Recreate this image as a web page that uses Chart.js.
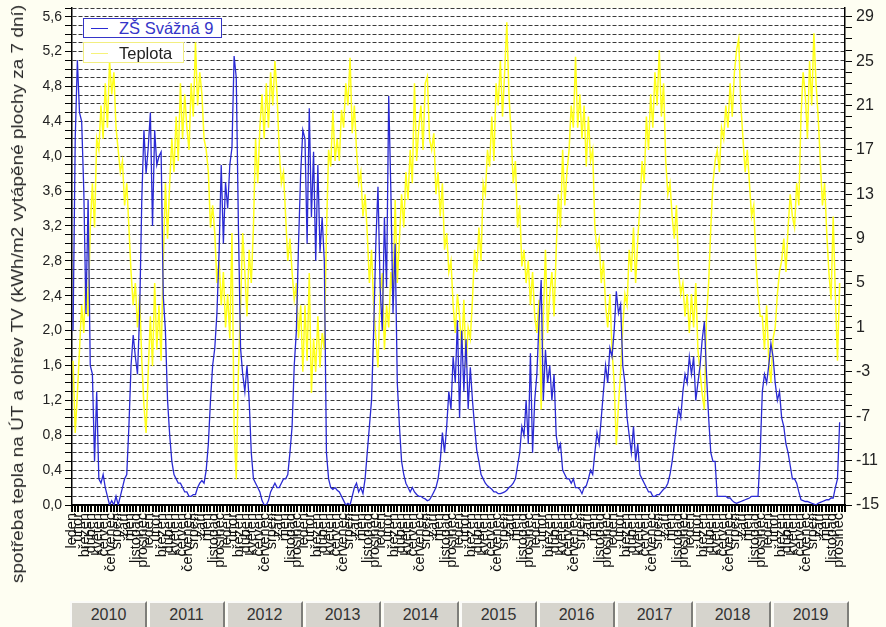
<!DOCTYPE html>
<html lang="cs">
<head>
<meta charset="utf-8">
<title>Spotřeba tepla – ZŠ Svážná 9</title>
<script src="https://cdn.jsdelivr.net/npm/chart.js@4.4.1/dist/chart.umd.min.js"></script>
<style>
  html, body { margin: 0; padding: 0; background: #fefef2; }
  body { width: 886px; height: 627px; overflow: hidden; position: relative; font-family: 'Liberation Sans', Arial, sans-serif; }
  #graf { position: absolute; left: 0; top: 0; }
  #ytitulek { position: absolute; left: 18px; top: 294px; white-space: nowrap; font-size: 17px; color: #2a2a2a; }
  .leg { position: absolute; left: 83px; background: #fff; box-sizing: border-box; font-size: 16.5px; line-height: 18px; white-space: nowrap; }
  .leg span.cara { position: absolute; left: 7px; width: 17px; top: 50%; height: 0; }
  .leg span.txt { position: absolute; left: 35px; top: 50%; transform: translateY(-52%); }
  #leg1 { top: 18px; width: 139px; height: 20px; border: 1px solid #3535c8; color: #3535c8; }
  #leg1 .cara { border-top: 1px solid #2b2bd4; }
  #leg2 { top: 42px; width: 101px; height: 21px; border: 1px solid #f2ee80; color: #222; }
  #leg2 .cara { border-top: 1px solid #f6f27a; }
  .rok { position: absolute; top: 601px; width: 77px; height: 30px; box-sizing: border-box; background: #d6d4cd;
         border-top: 2px solid #fbfbf8; border-left: 2px solid #fbfbf8; border-right: 2px solid #7e7e7a;
         text-align: center; line-height: 23px; font-size: 16px; color: #333; }
</style>
</head>
<body>
<canvas id="graf" width="886" height="600"></canvas>
<div id="ytitulek">spotřeba tepla na ÚT a ohřev TV (kWh/m2 vytápěné plochy za 7 dní)</div>
<div class="leg" id="leg1"><span class="cara"></span><span class="txt">ZŠ Svážná 9</span></div>
<div class="leg" id="leg2"><span class="cara"></span><span class="txt">Teplota</span></div>
<div id="roky"></div>
<script>
// měsíce a roky na ose x
const mesice = ['leden', 'únor', 'březen', 'duben', 'květen', 'červen', 'červenec', 'srpen', 'září', 'říjen', 'listopad', 'prosinec'];
const roky = [2010, 2011, 2012, 2013, 2014, 2015, 2016, 2017, 2018, 2019];

// spotřeba tepla (kWh/m2 za 7 dní), tři hodnoty na měsíc
const spotreba2010 = [2.0, 4.2, 5.1, 4.5, 4.4, 3.6, 2.2, 3.5, 1.6, 1.5, 0.5, 1.3, 0.3, 0.25, 0.35, 0.2, 0.1, 0.0, 0.05, 0.0, 0.1, 0.0, 0.1, 0.2, 0.3, 0.35, 0.9, 1.6, 1.95, 1.7, 1.5, 2.2, 3.5, 4.3, 3.8, 4.1];
const spotreba2011 = [4.5, 3.2, 4.3, 3.9, 4.0, 4.05, 2.4, 2.0, 1.2, 0.8, 0.5, 0.35, 0.3, 0.25, 0.25, 0.2, 0.15, 0.15, 0.1, 0.1, 0.12, 0.12, 0.2, 0.25, 0.28, 0.25, 0.4, 0.7, 1.2, 1.6, 1.8, 2.2, 2.9, 3.9, 3.0, 3.7];
const spotreba2012 = [3.4, 3.9, 4.1, 5.15, 4.9, 3.2, 1.8, 1.5, 1.3, 1.6, 1.2, 0.6, 0.3, 0.25, 0.2, 0.15, 0.05, 0.0, 0.0, 0.05, 0.15, 0.2, 0.25, 0.2, 0.2, 0.25, 0.3, 0.3, 0.35, 0.6, 0.9, 1.6, 2.0, 3.0, 3.8, 4.3];
const spotreba2013 = [4.2, 3.0, 4.55, 3.3, 4.05, 2.8, 3.9, 2.9, 3.3, 2.8, 0.6, 0.3, 0.2, 0.18, 0.2, 0.17, 0.15, 0.1, 0.05, 0.0, 0.02, 0.0, 0.1, 0.2, 0.25, 0.15, 0.2, 0.13, 0.3, 0.6, 0.9, 1.2, 2.0, 3.0, 3.65, 2.5];
const spotreba2014 = [2.0, 3.3, 2.5, 4.69, 3.6, 2.2, 3.0, 1.4, 0.9, 0.5, 0.35, 0.25, 0.2, 0.15, 0.2, 0.15, 0.12, 0.1, 0.1, 0.08, 0.07, 0.05, 0.06, 0.1, 0.15, 0.2, 0.3, 0.5, 0.83, 0.6, 0.9, 1.3, 1.1, 1.7, 1.4, 2.12];
const spotreba2015 = [1.0, 2.0, 1.3, 1.9, 1.1, 1.58, 1.2, 0.9, 0.63, 0.5, 0.35, 0.3, 0.25, 0.22, 0.2, 0.18, 0.15, 0.15, 0.13, 0.13, 0.14, 0.15, 0.17, 0.2, 0.22, 0.25, 0.3, 0.45, 0.6, 0.9, 0.8, 1.2, 0.7, 1.74, 0.6, 1.2];
const spotreba2016 = [1.5, 2.1, 2.58, 1.2, 1.78, 1.4, 1.6, 1.2, 1.5, 0.8, 0.63, 0.7, 0.4, 0.35, 0.3, 0.3, 0.25, 0.3, 0.2, 0.2, 0.18, 0.13, 0.2, 0.22, 0.3, 0.4, 0.35, 0.6, 0.83, 0.7, 1.0, 1.3, 1.6, 1.4, 1.8, 1.7];
const spotreba2017 = [2.0, 2.45, 2.2, 2.3, 1.6, 1.4, 1.0, 0.8, 0.6, 0.9, 0.5, 0.7, 0.35, 0.3, 0.25, 0.2, 0.15, 0.15, 0.1, 0.1, 0.12, 0.12, 0.15, 0.18, 0.2, 0.25, 0.35, 0.5, 0.7, 0.9, 1.1, 1.0, 1.3, 1.5, 1.4, 1.7];
const spotreba2018 = [1.5, 1.7, 1.2, 1.4, 1.6, 1.9, 2.1, 1.5, 1.0, 0.6, 0.5, 0.5, 0.1, 0.1, 0.1, 0.1, 0.1, 0.08, 0.08, 0.05, 0.03, 0.02, 0.03, 0.04, 0.05, 0.06, 0.07, 0.08, 0.1, 0.1, 0.1, 0.1, 0.6, 1.3, 1.5, 1.4];
const spotreba2019 = [1.6, 1.85, 1.7, 1.4, 1.2, 1.3, 1.0, 0.9, 0.7, 0.6, 0.45, 0.3, 0.3, 0.25, 0.15, 0.06, 0.05, 0.04, 0.04, 0.03, 0.02, 0.01, 0.0, 0.02, 0.03, 0.04, 0.05, 0.06, 0.06, 0.08, 0.08, 0.2, 0.3, 0.95];

// venkovní teplota (°C), tři hodnoty na měsíc
const teplota2010 = [-2, -8.5, -5, -1, 3, 0.5, 6, 2, 10, 14, 10, 18, 17, 21, 18, 23, 19, 25, 22, 24, 19, 17, 15, 16, 12, 14, 10, 6, 3, 5, 1, 4, -2, -6, -8.5, -3];
const teplota2011 = [2, -2.5, 5, -1, 3, -2, 7, 14, 9, 14, 18, 15, 20, 16, 23, 18, 22, 19, 17, 23, 20, 26.7, 21, 24, 22, 18, 17, 15, 10, 12, 9.5, 5, 7, 3, 6, 1];
const teplota2012 = [4, 0, 9.5, -8, -12.7, -3, 3, 9.5, 6, 2, 8, 5, 10, 18, 14, 19, 22, 18, 23, 19, 24, 21, 25, 22, 17, 14, 15, 11, 7, 9, 6, 3.5, 5, 0, 3, -3];
const teplota2013 = [3, -2, 5.9, -4.9, 0, -3, 2, -2.6, 0.5, -1, 9.5, 17, 15.5, 20.6, 16, 18, 16, 20.6, 19, 23, 21, 25.3, 18.5, 21, 17, 14, 15, 11, 13, 9.5, 5, 8, 3, 0, -2.6, 4];
const teplota2014 = [5.9, -1, 3, 1, 6, 3.5, 12.5, 5, 9, 13, 10, 15, 12.5, 17, 14, 23, 16, 19, 21, 17, 23, 23.6, 18, 17, 18.5, 13, 15, 11, 14, 8, 9.5, 6, 7, 3, 0.5, 4];
const teplota2015 = [2, -1, 3.5, -2.6, 1, 0, 3.5, 8, 6, 10, 7, 14, 13, 17, 15.5, 20, 16, 23, 21, 25, 20, 24, 28.5, 22, 18.5, 14, 16, 10, 12, 6.5, 8, 5, 7, 3, 6, 2];
const teplota2016 = [0.5, 3.5, -6.4, 2, 8, 0.5, 4, 6, 2, 8, 13, 10, 17, 12, 15, 17, 21, 19, 25.4, 19, 22, 18, 21, 15.5, 20, 16, 17, 10, 8, 9, 5, 7, 3, 1, 4, -1];
const teplota2017 = [-4, -9.6, -6, -3, 1, 4, 3, 8, 6, 10, 5, 9, 12, 16, 14, 20, 17, 22, 19, 24, 21, 26, 20, 23, 16, 13, 14, 11, 9, 12, 6, 4, 5, 2, 4, 0.5];
const teplota2018 = [4, 1, 5, -1, -3, -5, -6.4, 2, 5, 10, 14, 16, 17, 15, 19, 18, 21, 19, 23, 20, 24, 26, 27, 21, 18, 15, 17, 14, 11, 12, 7, 4, 2, 2, -1, 3];
const teplota2019 = [-2, -4, 0, 1, 4, 6, 7, 9, 6, 10, 13, 11, 10, 14, 12, 20, 24, 22, 18, 25, 21, 27.5, 23, 20, 16, 12, 14, 9.5, 6, 3.5, 11, 4, -2, 5];

const spotreba = [].concat(spotreba2010, spotreba2011, spotreba2012, spotreba2013, spotreba2014,
  spotreba2015, spotreba2016, spotreba2017, spotreba2018, spotreba2019);
const teplota = [].concat(teplota2010, teplota2011, teplota2012, teplota2013, teplota2014,
  teplota2015, teplota2016, teplota2017, teplota2018, teplota2019);

// osa x v měsících od ledna 2010, bod = třetina měsíce
const naBody = arr => arr.map((v, i) => ({ x: i / 3 + 1 / 6, y: v }));

const font = "'Liberation Sans', Arial, sans-serif";

// bílá plocha grafu
const bilePozadi = {
  id: 'bilePozadi',
  beforeDraw(chart) {
    const { ctx, chartArea: a } = chart;
    ctx.save();
    ctx.fillStyle = '#ffffff';
    ctx.fillRect(a.left, a.top, a.right - a.left, a.bottom - a.top);
    ctx.restore();
  }
};

const ctx = document.getElementById('graf');
new Chart(ctx, {
  type: 'line',
  data: {
    datasets: [{
      label: 'ZŠ Svážná 9',
      data: naBody(spotreba),
      yAxisID: 'y',
      borderColor: '#2b2bd4',
      borderWidth: 1.3,
      pointRadius: 0,
      tension: 0
    }, {
      label: 'Teplota',
      data: naBody(teplota),
      yAxisID: 'y1',
      borderColor: '#ffff1a',
      borderWidth: 1.5,
      pointRadius: 0,
      tension: 0
    }]
  },
  options: {
    responsive: false,
    animation: false,
    devicePixelRatio: 1,
    layout: { padding: { top: 8, left: 0, right: 0, bottom: 0 } },
    plugins: { legend: { display: false }, tooltip: { enabled: false } },
    scales: {
      x: {
        type: 'linear',
        min: 0,
        max: 120,
        afterBuildTicks: s => { s.ticks = Array.from({ length: 241 }, (_, i) => ({ value: i / 2 })); },
        ticks: {
          autoSkip: false,
          minRotation: 90,
          maxRotation: 90,
          padding: 1,
          color: '#111',
          font: { family: font, size: 14.5 },
          callback: v => (Number.isInteger(v) && v < 120) ? mesice[v % 12] : ''
        },
        grid: { drawOnChartArea: false, drawTicks: true, tickLength: 7, tickColor: '#000', lineWidth: 2 },
        border: { color: '#000', width: 2 },
        afterFit: s => { s.height = 95; s.paddingLeft = 0; s.paddingRight = 0; }
      },
      y: {
        position: 'left',
        min: 0,
        max: 5.7,
        afterBuildTicks: s => { s.ticks = Array.from({ length: 58 }, (_, i) => ({ value: i / 10 })); },
        ticks: {
          autoSkip: false,
          padding: 3,
          color: '#222',
          font: { family: font, size: 14 },
          callback: v => {
            const d = Math.round(v * 10);
            return d % 4 === 0 ? (d / 10).toFixed(1).replace('.', ',') : '';
          }
        },
        grid: { color: '#3a3a3a', lineWidth: 1, tickLength: 7, tickColor: '#000', tickWidth: 1 },
        border: { color: '#000', width: 1.5, dash: [4, 2] },
        afterFit: s => { s.width = 72; s.paddingTop = 0; s.paddingBottom = 0; }
      },
      y1: {
        position: 'right',
        min: -15,
        max: -15 + 5.7 / 5.6 * 44,
        afterBuildTicks: s => { s.ticks = Array.from({ length: 45 }, (_, i) => ({ value: i - 15 })); },
        ticks: {
          autoSkip: false,
          padding: 4,
          color: '#222',
          font: { family: font, size: 16 },
          callback: v => ((Math.round(v) + 15) % 4 === 0 ? String(Math.round(v)) : '')
        },
        grid: { drawOnChartArea: false, tickLength: 7, tickColor: '#000', tickWidth: 1 },
        border: { color: '#000', width: 1.5 },
        afterFit: s => { s.width = 41; s.paddingTop = 0; s.paddingBottom = 0; }
      }
    }
  },
  plugins: [bilePozadi]
});

// popisek osy y natočený a natažený na výšku obrázku
const yt = document.getElementById('ytitulek');
const sirka = yt.offsetWidth;
yt.style.transform = 'translate(-50%, -50%) rotate(-90deg) scaleX(' + (578 / sirka) + ')';

// tlačítka roků pod grafem
const rokyDiv = document.getElementById('roky');
roky.forEach((r, i) => {
  const b = document.createElement('div');
  b.className = 'rok';
  b.style.left = (70 + i * 78) + 'px';
  b.textContent = r;
  rokyDiv.appendChild(b);
});
</script>
</body>
</html>
